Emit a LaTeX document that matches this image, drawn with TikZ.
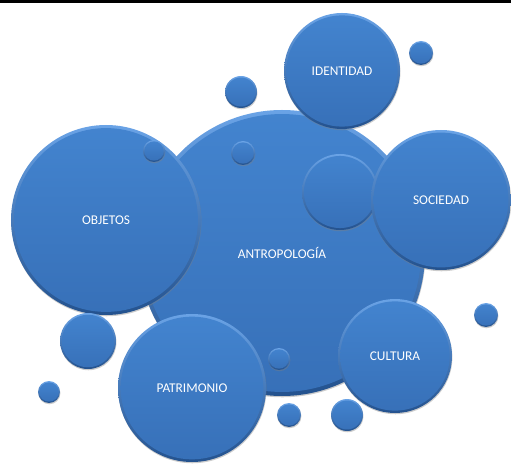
\documentclass[tikz,border=0pt]{standalone}
\usepackage{fontspec}
\setmainfont{Carlito}
\usetikzlibrary{shadows}

\definecolor{rimlight}{HTML}{6AA3E6}
\definecolor{rimdark}{HTML}{24528E}
\definecolor{bluetop}{HTML}{4384CF}
\definecolor{bluebot}{HTML}{3770B8}

\tikzset{
  bubble/.style={circle, inner sep=0pt, minimum size=#1 mm,
    top color=rimlight, bottom color=rimdark,
    drop shadow={shadow xshift=0.6pt, shadow yshift=-1.8pt, opacity=0.4},
    path picture={\shade[top color=bluetop, bottom color=bluebot]
      (path picture bounding box.center) circle ({#1*0.49mm-0.6mm});},
    text=white, font=\fontsize{19}{21}\selectfont}
}

\begin{document}
\begin{tikzpicture}[x=0.5mm, y=0.5mm]
\useasboundingbox (0,0) rectangle (511,464);
\fill[black] (0,461) rectangle (511,464);

% behind the big ones
\node[bubble=10] (b1) at (174,176) {};
\node[bubble=143] (antro) at (282,211) {ANTROPOLOGÍA};
\node[bubble=12] (b2) at (243,311) {};
\node[bubble=38] (b3) at (340,272) {};
\node[bubble=11] (b4) at (279,105) {};

\node[bubble=95] (objetos) at (106,244) {OBJETOS};
\node[bubble=11] (b5) at (154,313) {};

\node[bubble=58] (ident) at (342,393) {IDENTIDAD};
\node[bubble=12] (b6) at (421,411) {};
\node[bubble=16] (b7) at (241,372) {};

\node[bubble=70] (soc) at (441,264) {SOCIEDAD};
\node[bubble=57] (cult) at (395,108) {CULTURA};
\node[bubble=74] (patr) at (192,76) {PATRIMONIO};

% loose ones
\node[bubble=12] (b8) at (486,149) {};
\node[bubble=28] (b9) at (88,123) {};
\node[bubble=11] (b10) at (49,72) {};
\node[bubble=12] (b11) at (289,49) {};
\node[bubble=16] (b12) at (347,49) {};

\end{tikzpicture}
\end{document}
